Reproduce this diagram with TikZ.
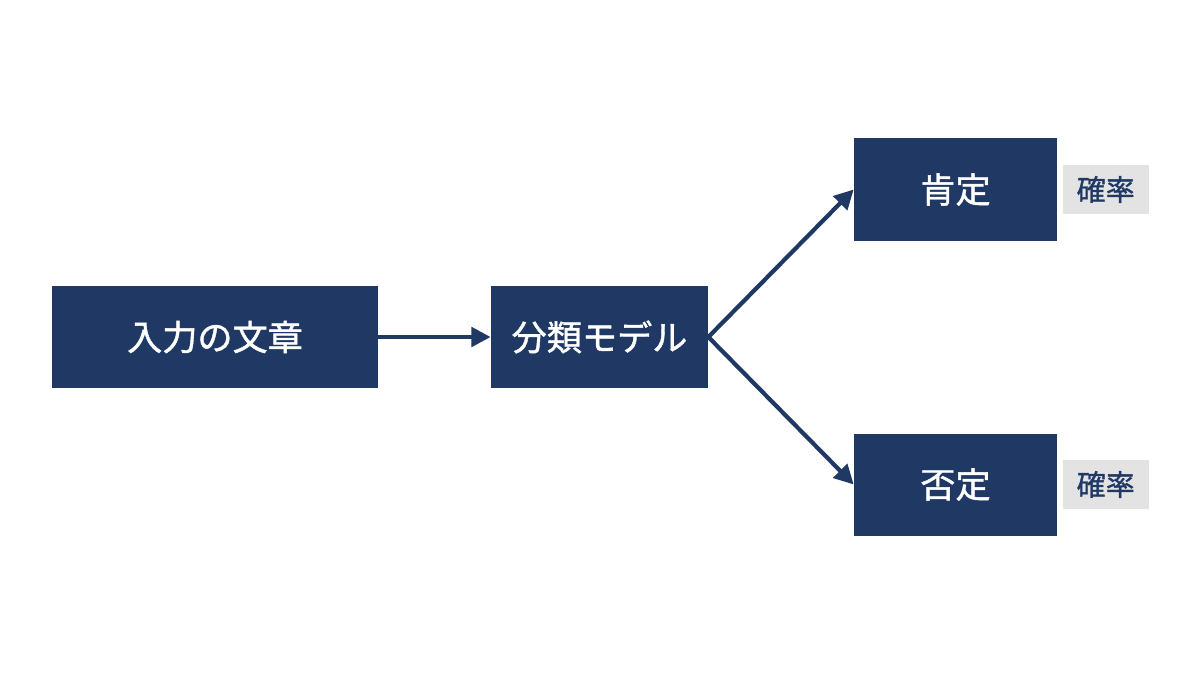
\documentclass[tikz,border=0pt]{standalone}
\usepackage{fontspec}
\newfontfamily\cjk[FakeBold=1.2]{Noto Sans CJK JP}
\usetikzlibrary{positioning,arrows.meta}
\definecolor{navy}{HTML}{1F3864}
\definecolor{probgray}{HTML}{E3E3E3}
\tikzset{
  box/.style={fill=navy, text=white, font=\cjk\fontsize{20}{24}\selectfont, minimum height=2.04cm, inner sep=0pt},
  prob/.style={fill=probgray, text=navy, font=\cjk\fontsize{16.5}{19}\selectfont, minimum width=1.72cm, minimum height=0.98cm, inner sep=0pt},
  flow/.style={navy, line width=2.4pt, -{Triangle[length=11pt,width=11pt]}}
}
\begin{document}
\begin{tikzpicture}
    \useasboundingbox (0,0) rectangle (24,13.5);

    \node[box, minimum width=6.52cm] (input) at (4.3,6.76) {入力の文章};
    \node[box, minimum width=4.34cm] (model) at (11.99,6.76) {分類モデル};
    \node[box, minimum width=4.06cm] (pos) at (19.11,9.71) {肯定};
    \node[box, minimum width=4.06cm] (neg) at (19.11,3.81) {否定};
    \node[prob, right=0.1cm of pos] (posprob) {確率};
    \node[prob, right=0.1cm of neg] (negprob) {確率};

    \draw[flow] (input) -- (model);
    \draw[flow] (model.east) -- (pos.west);
    \draw[flow] (model.east) -- (neg.west);
\end{tikzpicture}
\end{document}
